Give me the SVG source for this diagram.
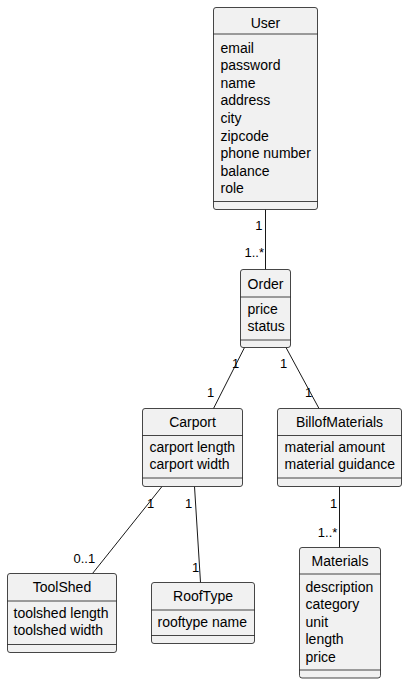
<svg xmlns="http://www.w3.org/2000/svg" width="407" height="684" viewBox="0 0 407 684">
<style>
.box{fill:#F1F1F1;stroke:#181818;stroke-width:0.8}
.sep{stroke:#181818;stroke-width:0.8}
.t{font-family:"Liberation Sans",Arial,sans-serif;font-size:14px;fill:#000}
.h{text-anchor:middle}
.l{font-family:"Liberation Sans",Arial,sans-serif;font-size:13px;fill:#000}
.c{stroke:#181818;stroke-width:1;fill:none}
</style>
<rect width="407" height="684" fill="#FFFFFF"/>
<g id="connectors">
<line class="c" x1="265.5" y1="209.5" x2="265.5" y2="269.5"/>
<line class="c" x1="244.5" y1="347.5" x2="213.5" y2="408.5"/>
<line class="c" x1="286" y1="347.5" x2="319" y2="408.5"/>
<line class="c" x1="162" y1="486.5" x2="92.5" y2="573.5"/>
<line class="c" x1="194.5" y1="486.5" x2="200.5" y2="582.5"/>
<line class="c" x1="339.5" y1="486.5" x2="339.5" y2="547.5"/>
<text class="l" x="255.3" y="230">1</text>
<text class="l" x="244.5" y="256.7">1..*</text>
<text class="l" x="232" y="367.7">1</text>
<text class="l" x="207" y="396.7">1</text>
<text class="l" x="280" y="367.7">1</text>
<text class="l" x="305" y="396.7">1</text>
<text class="l" x="147" y="508.3">1</text>
<text class="l" x="73.5" y="563.3">0..1</text>
<text class="l" x="185" y="508.3">1</text>
<text class="l" x="192" y="571.7">1</text>
<text class="l" x="330" y="508.3">1</text>
<text class="l" x="317.8" y="536.7">1..*</text>
</g>
<g id="User">
<rect class="box" x="213.5" y="7.5" width="104" height="202" rx="2.5"/>
<line class="sep" x1="213.5" y1="34" x2="317.5" y2="34"/>
<line class="sep" x1="213.5" y1="201.5" x2="317.5" y2="201.5"/>
<text class="t h" x="265.5" y="27.5">User</text>
<text class="t" x="220.5" y="52.5">email</text>
<text class="t" x="220.5" y="70.1">password</text>
<text class="t" x="220.5" y="87.7">name</text>
<text class="t" x="220.5" y="105.3">address</text>
<text class="t" x="220.5" y="122.9">city</text>
<text class="t" x="220.5" y="140.5">zipcode</text>
<text class="t" x="220.5" y="158.1">phone number</text>
<text class="t" x="220.5" y="175.7">balance</text>
<text class="t" x="220.5" y="193.3">role</text>
</g>
<g id="Order">
<rect class="box" x="240.5" y="269.5" width="50" height="78" rx="2.5"/>
<line class="sep" x1="240.5" y1="297" x2="290.5" y2="297"/>
<line class="sep" x1="240.5" y1="340" x2="290.5" y2="340"/>
<text class="t h" x="265.5" y="288.7">Order</text>
<text class="t" x="247.5" y="313.5">price</text>
<text class="t" x="247.5" y="331">status</text>
</g>
<g id="Carport">
<rect class="box" x="142.5" y="408.5" width="100" height="78" rx="2.5"/>
<line class="sep" x1="142.5" y1="435.5" x2="242.5" y2="435.5"/>
<line class="sep" x1="142.5" y1="478" x2="242.5" y2="478"/>
<text class="t h" x="192.5" y="426.7">Carport</text>
<text class="t" x="149.5" y="451.7">carport length</text>
<text class="t" x="149.5" y="469.2">carport width</text>
</g>
<g id="BillofMaterials">
<rect class="box" x="277.5" y="408.5" width="124" height="78" rx="2.5"/>
<line class="sep" x1="277.5" y1="435.5" x2="401.5" y2="435.5"/>
<line class="sep" x1="277.5" y1="478" x2="401.5" y2="478"/>
<text class="t h" x="339.5" y="426.7">BillofMaterials</text>
<text class="t" x="284.5" y="451.7">material amount</text>
<text class="t" x="284.5" y="469.2">material guidance</text>
</g>
<g id="ToolShed">
<rect class="box" x="7.5" y="573.5" width="109" height="79" rx="2.5"/>
<line class="sep" x1="7.5" y1="601" x2="116.5" y2="601"/>
<line class="sep" x1="7.5" y1="644.5" x2="116.5" y2="644.5"/>
<text class="t h" x="62" y="591.7">ToolShed</text>
<text class="t" x="13.5" y="617.5">toolshed length</text>
<text class="t" x="13.5" y="635">toolshed width</text>
</g>
<g id="RoofType">
<rect class="box" x="151.5" y="582.5" width="103" height="61" rx="2.5"/>
<line class="sep" x1="151.5" y1="610" x2="254.5" y2="610"/>
<line class="sep" x1="151.5" y1="635.5" x2="254.5" y2="635.5"/>
<text class="t h" x="203" y="600.7">RoofType</text>
<text class="t" x="157.5" y="626.5">rooftype name</text>
</g>
<g id="Materials">
<rect class="box" x="299.5" y="547.5" width="81" height="130.5" rx="2.5"/>
<line class="sep" x1="299.5" y1="574" x2="380.5" y2="574"/>
<line class="sep" x1="299.5" y1="670" x2="380.5" y2="670"/>
<text class="t h" x="340" y="565.7">Materials</text>
<text class="t" x="305.5" y="591.5">description</text>
<text class="t" x="305.5" y="609">category</text>
<text class="t" x="305.5" y="626.5">unit</text>
<text class="t" x="305.5" y="644">length</text>
<text class="t" x="305.5" y="661.5">price</text>
</g>
</svg>
